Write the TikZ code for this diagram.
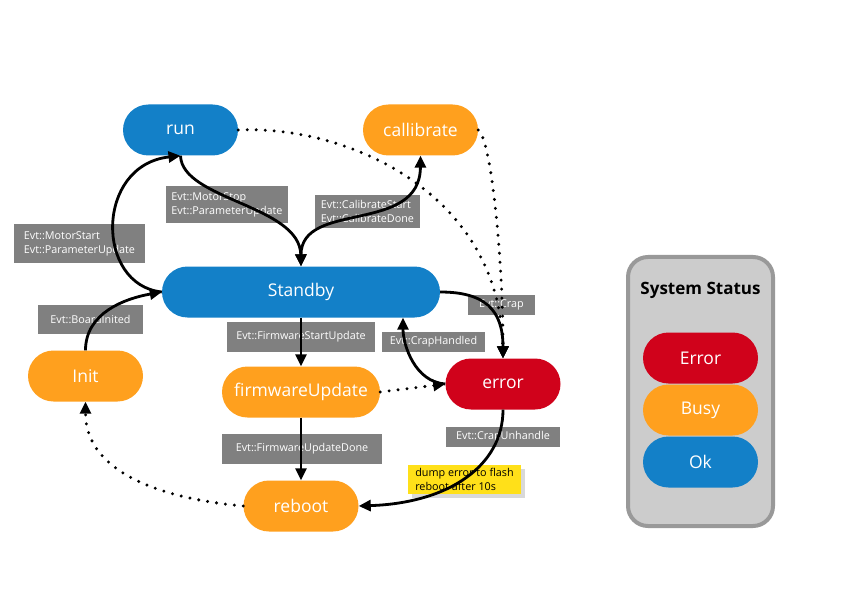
\documentclass[tikz,border=0pt]{standalone}
\usepackage{fontspec}
\setmainfont{Open Sans}
\usetikzlibrary{positioning}
\usetikzlibrary{arrows.meta}
\usetikzlibrary{shadows}
\definecolor{okblue}{HTML}{1380C8}
\definecolor{busyorange}{HTML}{FFA01E}
\definecolor{errred}{HTML}{D0021B}
\definecolor{evtgray}{HTML}{808080}
\definecolor{noteyellow}{HTML}{FFE019}
\definecolor{boxfill}{HTML}{CCCCCC}
\definecolor{boxline}{HTML}{999999}
\tikzset{state/.style = {rectangle, rounded corners=25.5pt, minimum width=115pt,
                         minimum height=51pt, text=white,
                         font=\fontsize{17.5}{20}\selectfont}}
\tikzset{evt/.style = {fill=evtgray, text=white, align=left, inner sep=3pt,
                       font=\fontsize{10.8}{14}\selectfont}}
\tikzset{trans/.style = {line width=2.8pt, -{Triangle[length=12pt,width=11pt]}}}
\tikzset{weak/.style = {trans, line width=3.3pt, line cap=round, dash pattern=on 0pt off 9pt}}

\begin{document}
\begin{tikzpicture}[x=1pt, y=1pt]
    \useasboundingbox (0,0) rectangle (842,595);
    % states
    \node[state, fill=okblue] (run) at (180.5,465) {run};
    \node[state, fill=busyorange] (callibrate) at (420.5,465) {callibrate};
    \node[state, fill=okblue, minimum width=278pt] (standby) at (301,303) {Standby};
    \node[state, fill=busyorange] (init) at (85.5,219) {Init};
    \node[state, fill=busyorange, minimum width=158pt] (fwupdate) at (301,203) {firmwareUpdate};
    \node[state, fill=errred] (error) at (503,211) {error};
    \node[state, fill=busyorange] (reboot) at (301,89) {reboot};
    % events
    \node[evt, minimum width=105pt, minimum height=29pt] (boardinited) at (90.5,275.5) {Evt::BoardInited};
    \node[evt, minimum width=131pt, minimum height=39pt] (motorstart) at (79.5,351.5) {Evt::MotorStart\\Evt::ParameterUpdate};
    \node[evt, minimum width=122pt, minimum height=37pt] (motorstop) at (227,390.5) {Evt::MotorStop\\Evt::ParameterUpdate};
    \node[evt, minimum width=105pt, minimum height=33pt] (calib) at (367.5,383.5) {Evt::CalibrateStart\\Evt::CalibrateDone};
    \node[evt, minimum width=148pt, minimum height=30pt] (fwstart) at (301,258) {Evt::FirmwareStartUpdate};
    \node[evt, minimum width=160pt, minimum height=30pt] (fwdone) at (302,146) {Evt::FirmwareUpdateDone};
    \node[evt, minimum width=67pt, minimum height=20pt] (crap) at (501.5,290) {Evt::Crap};
    \node[evt, minimum width=103pt, minimum height=20pt] (craphandled) at (433.5,253) {Evt::CrapHandled};
    \node[evt, minimum width=114pt, minimum height=20pt] (crapunhandle) at (503,158) {Evt::CrapUnhandle};
    \node[evt, fill=noteyellow, text=black, minimum width=113pt, minimum height=29pt,
          drop shadow={shadow xshift=4pt, shadow yshift=-4pt, fill=black!15, opacity=1}]
          (note) at (464.5,115.5) {dump error to flash\\reboot after 10s};
    % transitions
    \draw[trans] (init.north) to[out=90, in=190] (standby.west);
    \draw[trans] (standby.west) .. controls (95,310) and (95,430) .. (run.south);
    \draw[trans] (run.south) .. controls (182,395) and (300,390) .. (standby.north);
    \draw[trans, {Triangle[length=12pt,width=11pt]}-{Triangle[length=12pt,width=11pt]}]
          (standby.north) .. controls (301,395) and (420,360) .. (callibrate.south);
    \draw[trans] (standby.south) -- (fwupdate.north);
    \draw[trans] (fwupdate.south) -- (reboot.north);
    \draw[trans] (standby.east) .. controls (485,303) and (503,285) .. (error.north);
    \draw[trans] (error.west) .. controls (415,213) and (403,250) .. ([xshift=102pt]standby.south);
    \draw[trans] (error.south) .. controls (503,130) and (450,92) .. (reboot.east);
    \draw[weak] (run.east) .. controls (350,470) and (500,400) .. (error.north);
    \draw[weak] (callibrate.east) .. controls (492,455) and (503,330) .. (error.north);
    \draw[weak] (fwupdate.east) -- (error.west);
    \draw[weak] (reboot.west) to[out=175, in=270] (init.south);
    % legend
    \node[draw=boxline, fill=boxfill, line width=4pt, rounded corners=20pt,
          minimum width=145pt, minimum height=269pt] (statusbox) at (700.5,203.5) {};
    \node[font=\bfseries\fontsize{17}{20}\selectfont] (statustitle) at (700.5,305) {System Status};
    \foreach \y/\c/\t in {237/errred/Error, 185/busyorange/Busy, 133/okblue/Ok} {
        \node[state, fill=\c] (legend\t) at (700.5,\y) {\t};
    }
\end{tikzpicture}
\end{document}
